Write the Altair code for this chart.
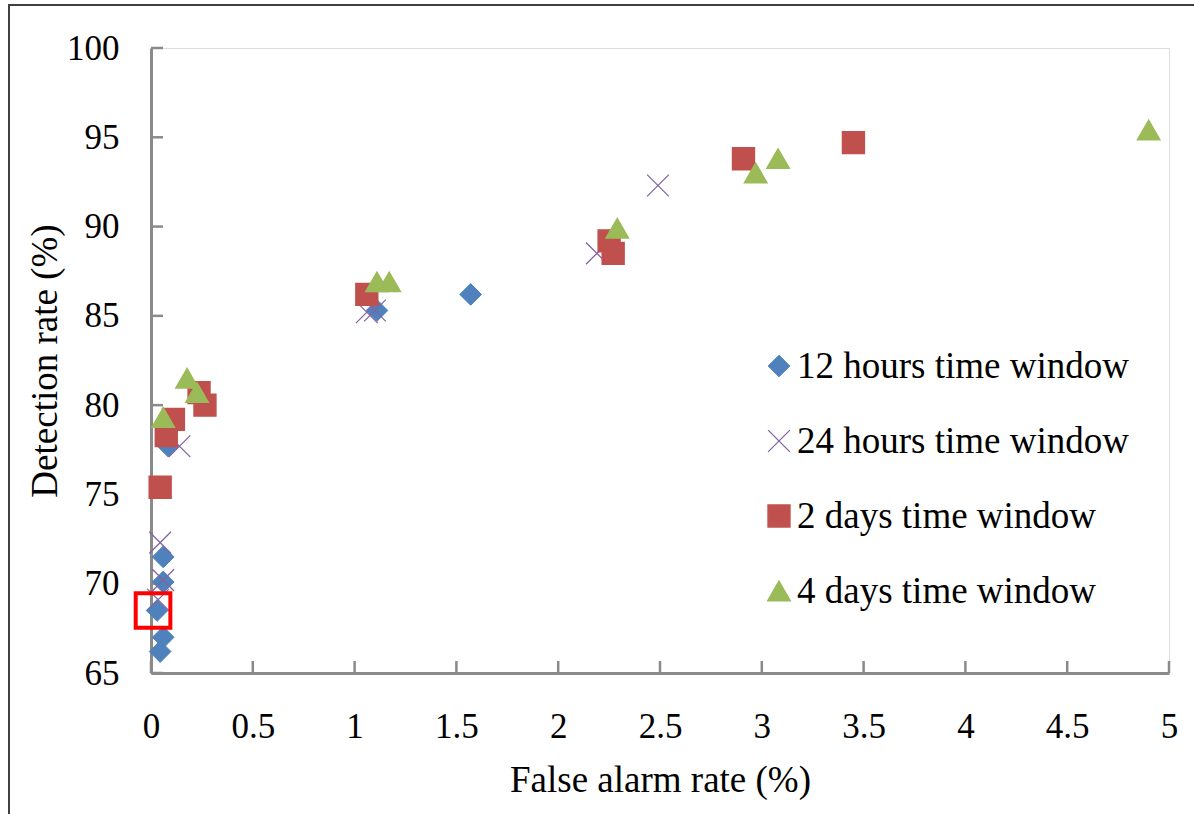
import altair as alt
import pandas as pd

series_names = ["12 hours time window", "24 hours time window",
                "2 days time window", "4 days time window"]
series_colors = ["#4F81BD", "#8064A2", "#C0504D", "#9BBB59"]
series_shapes = ["diamond", "M-1,-1L1,1M-1,1L1,-1", "square", "triangle-up"]
series_sizes = [470, 480, 440, 480]
series_strokes = [1, 1.8, 1, 1]

far_12h = [0.045, 0.06, 0.03, 0.06, 0.06, 0.085, 1.11, 1.57]
dr_12h = [66.2, 67.0, 68.5, 70.1, 71.5, 77.7, 85.3, 86.2]

far_24h = [0.035, 0.06, 0.045, 0.14, 1.06, 1.10, 2.19, 2.49]
dr_24h = [69.1, 70.2, 72.3, 77.7, 85.2, 85.3, 88.5, 92.3]

far_2d = [0.045, 0.075, 0.11, 0.236, 0.265, 1.06, 2.25, 2.27, 2.91, 3.45]
dr_2d = [75.4, 78.3, 79.2, 80.7, 80.0, 86.2, 89.2, 88.5, 93.8, 94.7]

far_4d = [0.06, 0.177, 0.226, 1.11, 1.17, 2.29, 2.97, 3.08, 4.90]
dr_4d = [79.3, 81.5, 80.7, 86.9, 86.9, 89.9, 93.0, 93.8, 95.4]

highlight_far = [0.01]
highlight_dr = [68.5]

x_ticks = [0, 0.5, 1, 1.5, 2, 2.5, 3, 3.5, 4, 4.5, 5]
y_ticks = [65, 70, 75, 80, 85, 90, 95, 100]

FONT = "Liberation Serif"
W, H = 1018, 625

rows = []
for name, xs, ys in zip(series_names, [far_12h, far_24h, far_2d, far_4d],
                        [dr_12h, dr_24h, dr_2d, dr_4d]):
    for xv, yv in zip(xs, ys):
        rows.append({"series": name, "far": xv, "dr": yv})
df = pd.DataFrame(rows)

xscale = alt.Scale(domain=[0, 5], nice=False, zero=False)
yscale = alt.Scale(domain=[65, 100], nice=False, zero=False)

x_axis = alt.Axis(values=x_ticks, ticks=False, grid=False, domainColor="#8A8A8A",
                  domainWidth=3, labelFontSize=35, labelPadding=36, labelFlush=False,
                  labelFont=FONT, labelColor="black", titleFont=FONT,
                  titleFontSize=37, titleFontWeight="normal", titleColor="black",
                  titlePadding=18, format="~g")
y_axis = alt.Axis(values=y_ticks, ticks=False, grid=False, domainColor="#8A8A8A",
                  domainWidth=3, labelFontSize=35, labelPadding=32,
                  labelFont=FONT, labelColor="black", titleFont=FONT,
                  titleFontSize=37, titleFontWeight="normal", titleColor="black",
                  titlePadding=2)

sc_fill = alt.Scale(domain=series_names, range=series_colors)
sc_shape = alt.Scale(domain=series_names, range=series_shapes)
sc_size = alt.Scale(domain=series_names, range=series_sizes)
sc_sw = alt.Scale(domain=series_names, range=series_strokes)

pts = alt.Chart(df).mark_point(filled=True, opacity=1).encode(
    x=alt.X("far:Q", scale=xscale, axis=x_axis, title="False alarm rate (%)"),
    y=alt.Y("dr:Q", scale=yscale, axis=y_axis, title="Detection rate (%)"),
    fill=alt.Fill("series:N", scale=sc_fill, legend=None),
    stroke=alt.Stroke("series:N", scale=sc_fill, legend=None),
    shape=alt.Shape("series:N", scale=sc_shape, legend=None),
    size=alt.Size("series:N", scale=sc_size, legend=None),
    strokeWidth=alt.StrokeWidth("series:N", scale=sc_sw, legend=None),
)

xt = alt.Chart(pd.DataFrame({"t": x_ticks})).mark_rule(color="#8A8A8A", strokeWidth=2.5).encode(
    x=alt.X("t:Q", scale=xscale), y=alt.value(H), y2=alt.value(H - 12))
yt = alt.Chart(pd.DataFrame({"t": y_ticks})).mark_rule(color="#8A8A8A", strokeWidth=2.5).encode(
    y=alt.Y("t:Q", scale=yscale), x=alt.value(0), x2=alt.value(12))

hl = alt.Chart(pd.DataFrame({"far": highlight_far, "dr": highlight_dr})).mark_point(
    shape="square", size=1200, filled=False, stroke="#FF0000", strokeWidth=4, opacity=1
).encode(x=alt.X("far:Q", scale=xscale), y=alt.Y("dr:Q", scale=yscale))

frame = alt.Chart(pd.DataFrame({"a": [0]})).mark_rect(
    fill=None, stroke="#404040", strokeWidth=2, clip=False
).encode(x=alt.value(-142), x2=alt.value(1120), y=alt.value(-43), y2=alt.value(820))

# legend drawn as layers (positions relative to plot area)
LEG_SYM_X = 628
LEG_TXT_X = 646
LEG_ROW0 = 318
LEG_STEP = 75
legend_layers = []
for i, name in enumerate(series_names):
    ldf = pd.DataFrame({"series": [name]})
    yy = LEG_ROW0 + LEG_STEP * i
    sym = alt.Chart(ldf).mark_point(filled=True, opacity=1).encode(
        x=alt.value(LEG_SYM_X), y=alt.value(yy),
        fill=alt.Fill("series:N", scale=sc_fill, legend=None),
        stroke=alt.Stroke("series:N", scale=sc_fill, legend=None),
        shape=alt.Shape("series:N", scale=sc_shape, legend=None),
        size=alt.Size("series:N", scale=sc_size, legend=None),
        strokeWidth=alt.StrokeWidth("series:N", scale=sc_sw, legend=None),
    )
    txt = alt.Chart(ldf).mark_text(
        align="left", baseline="middle", font=FONT, fontSize=37, color="black"
    ).encode(x=alt.value(LEG_TXT_X), y=alt.value(yy + 1), text="series:N")
    legend_layers += [sym, txt]

chart = alt.layer(frame, xt, yt, pts, hl, *legend_layers).properties(
    width=W, height=H,
    autosize=alt.AutoSizeParams(type="none"),
    padding={"left": 151, "top": 48, "right": 25, "bottom": 141},
).configure_view(stroke=None).configure(background="white")

chart.save("out.html", embed_options={"renderer": "svg", "actions": False})
